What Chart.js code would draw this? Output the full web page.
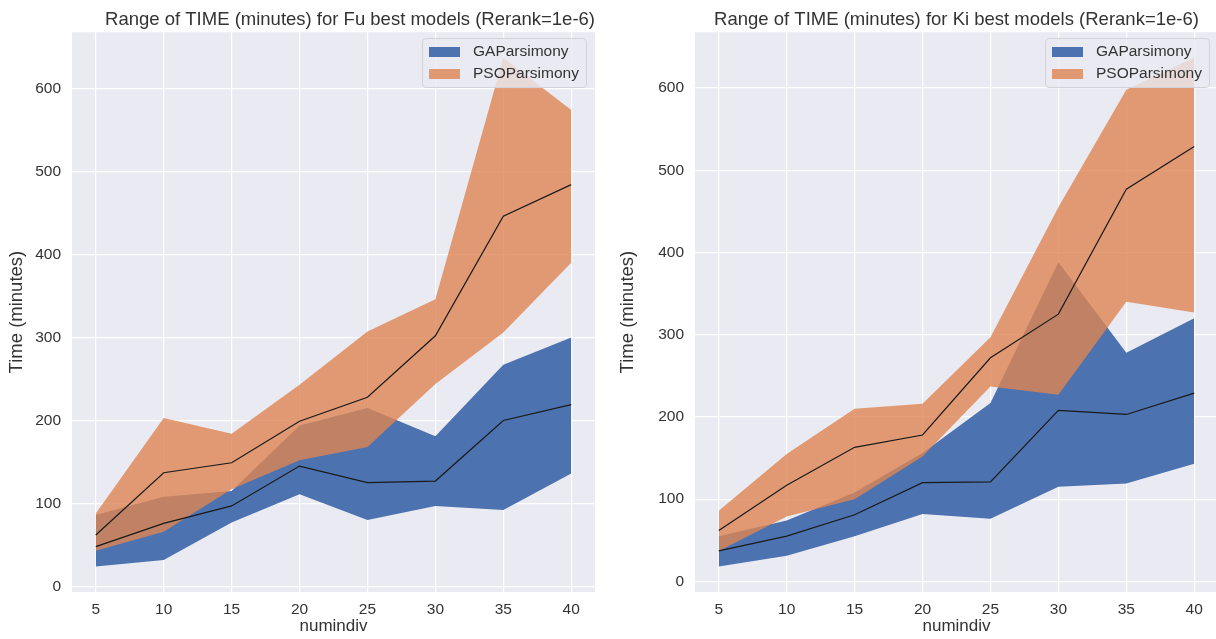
<!DOCTYPE html>
<html>
<head>
<meta charset="utf-8">
<script src="https://cdn.jsdelivr.net/npm/chart.js@4.4.0/dist/chart.umd.min.js"></script>
<style>
    html, body { margin: 0; padding: 0; background: #fff; overflow: hidden; }
    body { width: 1216px; height: 639px; position: relative; font-family: "Liberation Sans", Arial, sans-serif; }
    .chart-box { position: absolute; top: 0; height: 639px; }
    .legend {
        position: absolute; top: 38px; width: 165px; height: 50px;
        box-sizing: border-box; border: 1px solid #d2d2da; border-radius: 4px;
        background: rgba(234, 234, 242, 0.8); color: #333; font-size: 15.5px;
    }
    .legend .patch { position: absolute; left: 6px; width: 31px; height: 10px; }
    .legend .label { position: absolute; left: 50px; line-height: 18px; }
</style>
</head>
<body>
<div class="chart-box" style="left:0;width:608px"><canvas id="fu"></canvas></div>
<div class="chart-box" style="left:608px;width:620px"><canvas id="ki"></canvas></div>
<div class="legend" style="left:422px">
    <div class="patch" style="top:8px;background:#4c72b0"></div><div class="label" style="top:3px">GAParsimony</div>
    <div class="patch" style="top:30px;background:rgba(221,132,82,0.8)"></div><div class="label" style="top:25px">PSOParsimony</div>
</div>
<div class="legend" style="left:1045px">
    <div class="patch" style="top:8px;background:#4c72b0"></div><div class="label" style="top:3px">GAParsimony</div>
    <div class="patch" style="top:30px;background:rgba(221,132,82,0.8)"></div><div class="label" style="top:25px">PSOParsimony</div>
</div>
<script>
const numindiv = [5, 10, 15, 20, 25, 30, 35, 40];

// Fu
const fuGaMin = [24, 32, 77, 111, 80, 97, 92, 136];
const fuGaMax = [86, 108, 115, 194, 215, 181, 267, 300];
const fuGaMedian = [48, 76, 97, 145, 125, 127, 200, 219];
const fuPsoMin = [43, 66, 117, 152, 168, 244, 306, 390];
const fuPsoMax = [88, 203, 184, 243, 307, 346, 637, 574];
const fuPsoMedian = [62, 137, 149, 199, 228, 302, 446, 484];

// Ki
const kiGaMin = [18, 31, 55, 82, 76, 115, 119, 143];
const kiGaMax = [55, 74, 108, 156, 217, 388, 278, 320];
const kiGaMedian = [37, 55, 81, 120, 121, 208, 203, 229];
const kiPsoMin = [37, 79, 100, 152, 237, 227, 340, 327];
const kiPsoMax = [86, 155, 210, 216, 297, 455, 598, 637];
const kiPsoMedian = [62, 117, 163, 178, 272, 325, 477, 529];

const gaColor = '#4c72b0';
const psoColor = 'rgba(221, 132, 82, 0.8)';
const textColor = '#333333';
const fontFamily = '"Liberation Sans", Arial, sans-serif';

const plotBackground = {
    id: 'plotBackground',
    beforeDraw(chart) {
        const { ctx, chartArea: a } = chart;
        ctx.save();
        ctx.fillStyle = '#eaeaf2';
        ctx.fillRect(a.left, a.top, a.right - a.left, a.bottom - a.top);
        ctx.restore();
    }
};

// matplotlib style 5% margins
function axisRange(values) {
    const lo = Math.min(...values), hi = Math.max(...values);
    const pad = (hi - lo) * 0.05;
    return [lo - pad, hi + pad];
}

function createChart(canvas, cfg) {
    const [ymin, ymax] = axisRange([...cfg.gaMin, ...cfg.gaMax, ...cfg.psoMin, ...cfg.psoMax]);
    const [xmin, xmax] = axisRange(numindiv);
    const pts = arr => arr.map((v, i) => ({ x: numindiv[i], y: v }));

    const band = (data, color, fill, order) => ({
        data: pts(data),
        borderColor: 'rgba(0,0,0,0)',
        borderWidth: 0,
        backgroundColor: color,
        pointRadius: 0,
        tension: 0,
        fill: fill,
        order: order
    });
    const median = data => ({
        data: pts(data),
        borderColor: '#1a1a1a',
        borderWidth: 1.2,
        pointRadius: 0,
        tension: 0,
        fill: false,
        order: 0
    });

    return new Chart(canvas.getContext('2d'), {
        type: 'line',
        data: {
            datasets: [
                band(cfg.gaMin, gaColor, false, 3),
                band(cfg.gaMax, gaColor, '-1', 3),
                band(cfg.psoMin, psoColor, false, 2),
                band(cfg.psoMax, psoColor, '-1', 2),
                median(cfg.gaMedian),
                median(cfg.psoMedian)
            ]
        },
        options: {
            responsive: true,
            maintainAspectRatio: false,
            animation: false,
            layout: { padding: { right: cfg.padRight } },
            plugins: {
                legend: { display: false },
                tooltip: { enabled: false },
                title: {
                    display: true,
                    text: cfg.title,
                    align: cfg.titleAlign,
                    fullSize: false,
                    color: textColor,
                    font: { family: fontFamily, size: 18.5, weight: 'normal' },
                    padding: { top: 9, bottom: 1 }
                }
            },
            scales: {
                x: {
                    type: 'linear',
                    min: xmin,
                    max: xmax,
                    afterFit: s => { s.height = 47; },
                    border: { display: false },
                    grid: { color: '#ffffff', lineWidth: 1.2, drawTicks: false },
                    ticks: {
                        stepSize: 5, includeBounds: false, padding: 8,
                        color: textColor, font: { family: fontFamily, size: 15.5 }
                    },
                    title: {
                        display: true, text: 'numindiv', color: textColor,
                        font: { family: fontFamily, size: 17 },
                        padding: { top: 0, bottom: 2 }
                    }
                },
                y: {
                    type: 'linear',
                    min: ymin,
                    max: ymax,
                    afterFit: s => { s.width = cfg.yWidth; },
                    border: { display: false },
                    grid: { color: '#ffffff', lineWidth: 1.2, drawTicks: false },
                    ticks: {
                        stepSize: 100, includeBounds: false, padding: 11,
                        color: textColor, font: { family: fontFamily, size: 15.5 }
                    },
                    title: {
                        display: true, text: 'Time (minutes)', color: textColor,
                        font: { family: fontFamily, size: 18.5 },
                        padding: { top: cfg.yTitlePad, bottom: 0 }
                    }
                }
            }
        },
        plugins: [plotBackground]
    });
}

createChart(document.getElementById('fu'), {
    title: 'Range of TIME (minutes) for Fu best models (Rerank=1e-6)',
    titleAlign: 'end',
    yWidth: 72, yTitlePad: 6, padRight: 13,
    gaMin: fuGaMin, gaMax: fuGaMax, gaMedian: fuGaMedian,
    psoMin: fuPsoMin, psoMax: fuPsoMax, psoMedian: fuPsoMedian
});

createChart(document.getElementById('ki'), {
    title: 'Range of TIME (minutes) for Ki best models (Rerank=1e-6)',
    titleAlign: 'center',
    yWidth: 87, yTitlePad: 9, padRight: 10,
    gaMin: kiGaMin, gaMax: kiGaMax, gaMedian: kiGaMedian,
    psoMin: kiPsoMin, psoMax: kiPsoMax, psoMedian: kiPsoMedian
});
</script>
</body>
</html>
